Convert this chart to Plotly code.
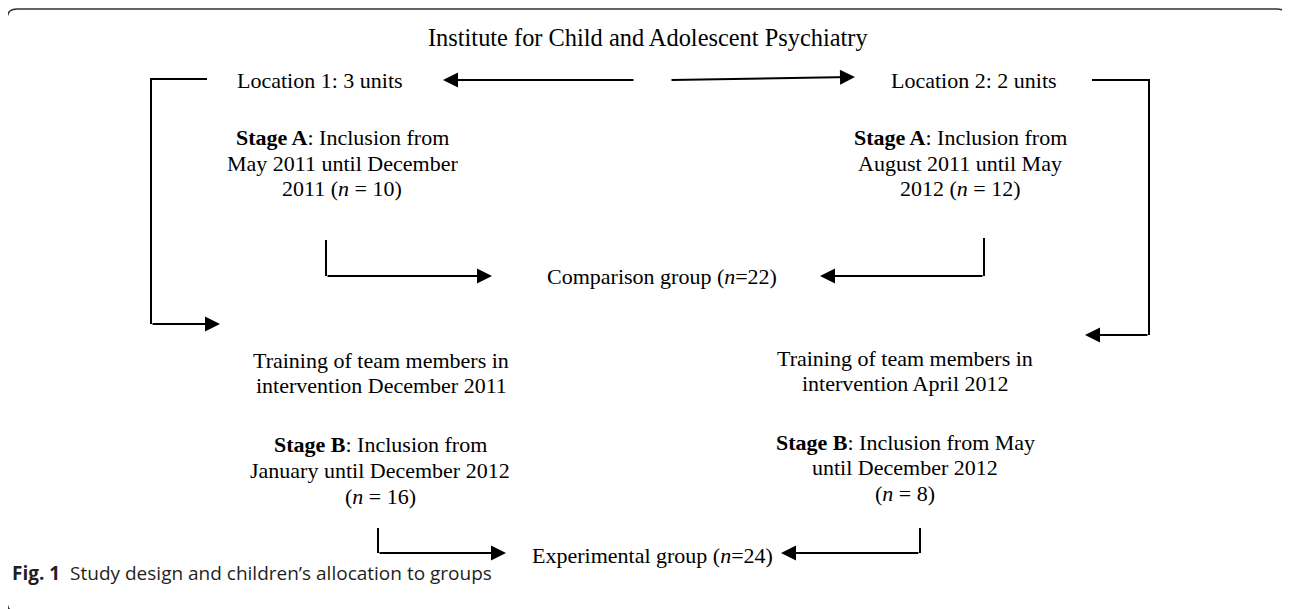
import plotly.graph_objects as go

# ---------------- data ----------------
title_text = ["Institute for Child and Adolescent Psychiatry"]
title_pos = [(648, 37)]

location_text = ["Location 1: 3 units", "Location 2: 2 units"]
location_pos = [(320, 80), (974, 80)]

stageA_left = ["<b>Stage A</b>: Inclusion from", "May 2011 until December", "2011 (<i>n</i> = 10)"]
stageA_left_x = 342
stageA_left_y = [137, 163, 188]

stageA_right = ["<b>Stage A</b>: Inclusion from", "August 2011 until May", "2012 (<i>n</i> = 12)"]
stageA_right_x = 960
stageA_right_y = [137, 163, 188]

comparison_text = ["Comparison group (<i>n</i>=22)"]
comparison_pos = [(662, 276)]

training_left = ["Training of team members in", "intervention December 2011"]
training_left_x = 381
training_left_y = [360, 385]

training_right = ["Training of team members in", "intervention April 2012"]
training_right_x = 905
training_right_y = [358, 383]

stageB_left = ["<b>Stage B</b>: Inclusion from", "January until December 2012", "(<i>n</i> = 16)"]
stageB_left_x = 380
stageB_left_y = [444, 470, 496]

stageB_right = ["<b>Stage B</b>: Inclusion from May", "until December 2012", "(<i>n</i> = 8)"]
stageB_right_x = 905
stageB_right_y = [442, 467, 493]

experimental_text = ["Experimental group (<i>n</i>=24)"]
experimental_pos = [(652, 555)]

caption_text = "<b>Fig. 1</b>  Study design and children’s allocation to groups"
caption_pos = (10, 573)

# connectors: polyline points; final segment is drawn as an arrow
connectors = {
    "loc1_to_training": ([207, 151, 151, 220], [79, 79, 324, 324]),
    "loc2_to_training": ([1092, 1149, 1149, 1085], [80, 80, 335, 335]),
    "inst_to_loc1": ([635, 443], [80, 80]),
    "inst_to_loc2": ([670, 855], [80, 77]),
    "stageA_left_to_comp": ([326, 326, 492], [240, 276, 276]),
    "stageA_right_to_comp": ([984, 984, 820], [238, 276, 276]),
    "stageB_left_to_exp": ([378, 378, 506], [528, 553, 553]),
    "stageB_right_to_exp": ([920, 920, 781], [528, 553, 553]),
}

# ---------------- figure ----------------
fig = go.Figure()

SERIF = "Liberation Serif, Times New Roman, serif"
FS = 22

for name, (xs, ys) in connectors.items():
    if len(xs) > 2:
        fig.add_trace(go.Scatter(x=xs[:-1], y=ys[:-1], mode="lines",
                                 line=dict(color="black", width=2),
                                 hoverinfo="skip", showlegend=False))
    fig.add_annotation(x=xs[-1], y=ys[-1], ax=xs[-2], ay=ys[-2],
                       xref="x", yref="y", axref="x", ayref="y",
                       text="", showarrow=True, arrowhead=2, arrowsize=1.5,
                       arrowwidth=2, arrowcolor="black", standoff=0, startstandoff=0)


def add_text(txt, x, y, size=FS):
    fig.add_annotation(x=x, y=y, xref="x", yref="y", text=txt, showarrow=False,
                       xanchor="center", yanchor="middle",
                       font=dict(family=SERIF, size=size, color="black"))


for t, (x, y) in zip(title_text, title_pos):
    add_text(t, x, y, size=24.4)
for t, (x, y) in zip(location_text, location_pos):
    add_text(t, x, y)
for t, y in zip(stageA_left, stageA_left_y):
    add_text(t, stageA_left_x, y)
for t, y in zip(stageA_right, stageA_right_y):
    add_text(t, stageA_right_x, y)
for t, (x, y) in zip(comparison_text, comparison_pos):
    add_text(t, x, y)
for t, y in zip(training_left, training_left_y):
    add_text(t, training_left_x, y)
for t, y in zip(training_right, training_right_y):
    add_text(t, training_right_x, y)
for t, y in zip(stageB_left, stageB_left_y):
    add_text(t, stageB_left_x, y)
for t, y in zip(stageB_right, stageB_right_y):
    add_text(t, stageB_right_x, y)
for t, (x, y) in zip(experimental_text, experimental_pos):
    add_text(t, x, y)

fig.add_annotation(x=caption_pos[0], y=caption_pos[1], xref="x", yref="y",
                   text=caption_text, showarrow=False,
                   xanchor="left", yanchor="middle",
                   font=dict(family="Open Sans, sans-serif", size=19, color="#231f20"))

# rounded frame
fig.add_shape(type="path", xref="x", yref="y",
              path="M 17,612 Q 7,612 7,602 L 7,19 Q 7,9 17,9 L 1277,9 Q 1287,9 1287,19 L 1287,602 Q 1287,612 1277,612 Z",
              line=dict(color="#333333", width=1.5), fillcolor="rgba(0,0,0,0)", layer="below")

# the page body has an 8px margin; shift the ranges so coordinates match window pixels
OFF = 8
fig.update_xaxes(range=[OFF, 1290 + OFF], visible=False, fixedrange=True)
fig.update_yaxes(range=[609 + OFF, OFF], visible=False, fixedrange=True)
fig.update_layout(width=1290, height=609, margin=dict(l=0, r=0, t=0, b=0),
                  paper_bgcolor="white", plot_bgcolor="white", showlegend=False)

fig.write_html("out.html")
